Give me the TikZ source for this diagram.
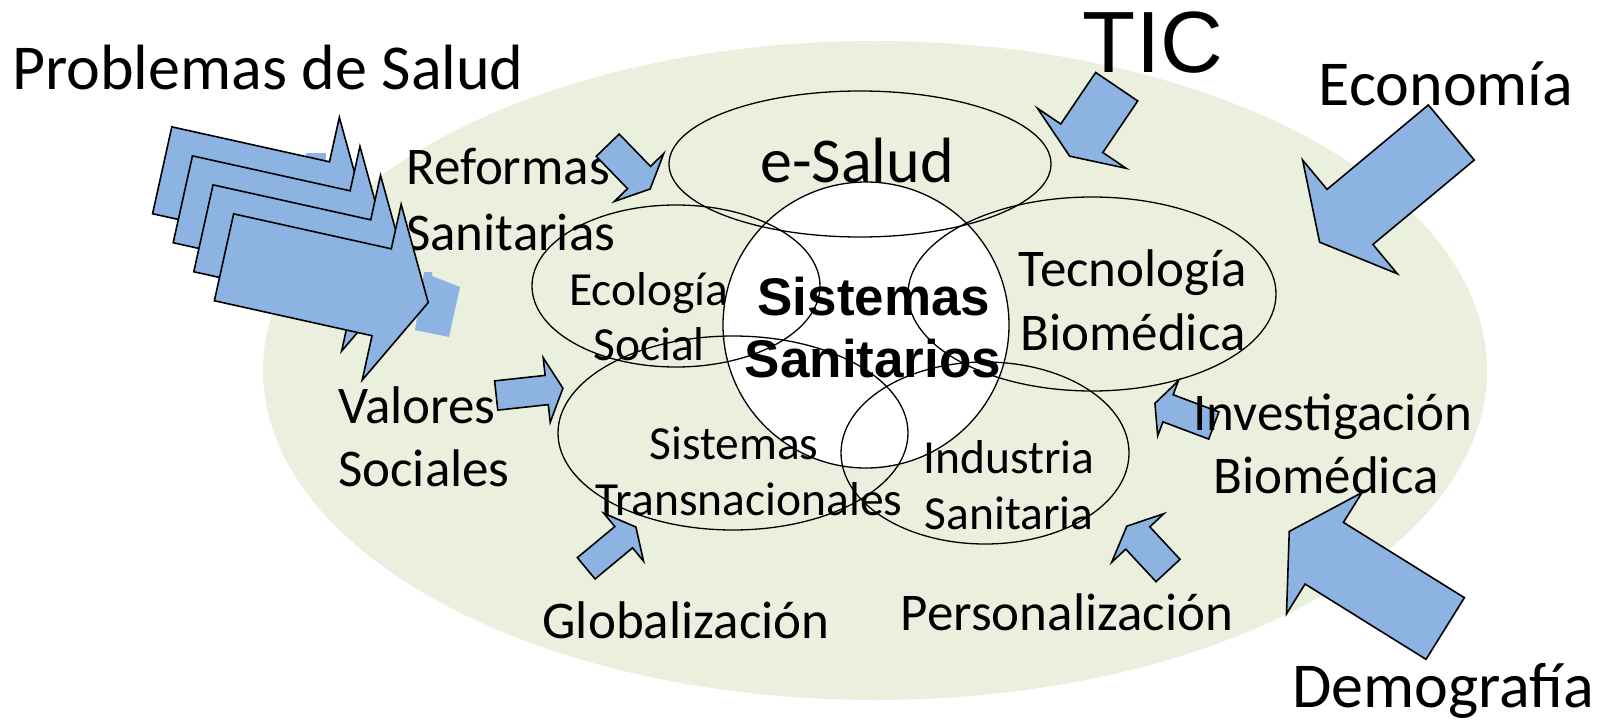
\documentclass[tikz,border=0pt]{standalone}
\usepackage{fontspec}
\newfontfamily\carl{Carlito}
\newfontfamily\libs{Liberation Sans}
\definecolor{bgolive}{HTML}{EBF0DE}
\definecolor{arrblue}{HTML}{8DB3E2}
\tikzset{
  barrow/.style={fill=arrblue,draw=black,line width=1.6pt,line join=miter},
  ring/.style={draw=black,line width=1.3pt},
  lbl/.style={inner sep=0pt,anchor=base,font=\carl\fontsize{53}{63}\selectfont},
  lblbig/.style={inner sep=0pt,anchor=base,font=\carl\fontsize{64}{76}\selectfont},
  lblsm/.style={inner sep=0pt,anchor=base,font=\carl\fontsize{47.5}{57}\selectfont},
  lblbold/.style={inner sep=0pt,anchor=base,font=\libs\bfseries\fontsize{53}{63}\selectfont},
}
% #1,#2 back centre, #3 angle, #4 shaft length, #5 shaft half width, #6 head half width, #7 head length
\newcommand\blockarr[7]{%
  \begin{scope}[shift={(#1,#2)},rotate=#3]
    \filldraw[barrow] (0,-#5) -- (#4,-#5) -- (#4,-#6) -- ({#4+#7},0) -- (#4,#6) -- (#4,#5) -- (0,#5) -- cycle;
  \end{scope}}
\begin{document}
\begin{tikzpicture}[x=1pt,y=-1pt]
\useasboundingbox (0,0) rectangle (1614,722);
% background
\fill[bgolive] (875,370.5) ellipse [x radius=612, y radius=329.5];
% stray blue pieces
\fill[arrblue] (306,153) rectangle (326,180);
\fill[arrblue] (424,272) -- (432,272) -- (432,276) -- (460,287) -- (449,337) -- (415,330) -- cycle;
% central white circle
\fill[white] (866,325) circle [radius=143];
% ellipse outlines
\draw[ring] (860,164) ellipse [x radius=191, y radius=73];
\draw[ring] (676,286) ellipse [x radius=144, y radius=81];
\draw[ring] (866,325) circle [radius=143];
\draw[ring] (1092,294) ellipse [x radius=184, y radius=97];
\draw[ring] (733,433) ellipse [x radius=175, y radius=97];
\draw[ring] (985,453) ellipse [x radius=144, y radius=91];
% labels
\node[lblbig,anchor=base west] (prob) at (12,90) {Problemas de Salud};
\node[inner sep=0pt,anchor=base,font=\libs\fontsize{87}{96}\selectfont] (tic) at (1153,73) {TIC};
\node[lblbig] (eco) at (1446,106) {Economía};
\node[lblbig] (dem) at (1443,707) {Demografía};
\node[lbl,anchor=base west] (ref1) at (406,185) {Reformas};
\node[lbl,anchor=base west] (ref2) at (406,250) {Sanitarias};
\node[lblbig] (esal) at (857,183) {e-Salud};
\node[lblsm] (ecol1) at (649,305) {Ecología};
\node[lblsm] (ecol2) at (649,360) {Social};
\node[lblbold] (ss1) at (874,315) {Sistemas};
\node[lblbold] (ss2) at (873,377) {Sanitarios};
\node[lbl] (tec1) at (1133,286) {Tecnología};
\node[lbl] (tec2) at (1133,350) {Biomédica};
\node[lbl,anchor=base west] (val1) at (338,423) {Valores};
\node[lbl,anchor=base west] (val2) at (338,486) {Sociales};
\node[lblsm] (st1) at (734,459) {Sistemas};
\node[lblsm] (st2) at (749,515) {Transnacionales};
\node[lblsm] (ind1) at (1009,473) {Industria};
\node[lblsm] (ind2) at (1009,529) {Sanitaria};
\node[lbl] (glob) at (686,638) {Globalización};
\node[lbl] (pers) at (1067,630) {Personalización};
% block arrows
\blockarr{162.2}{170.3}{-12.5}{161.5}{44.5}{90}{47.7}
\blockarr{182.8}{199.3}{-12.5}{161.5}{44.5}{90}{47.7}
\blockarr{203.4}{228.3}{-12.5}{161.5}{44.5}{90}{47.7}
\blockarr{224}{257.3}{-12.5}{161.5}{44.5}{90}{47.7}
\blockarr{607.7}{145.2}{-45.9}{45}{16}{34.4}{16}
\blockarr{1116.7}{86.7}{-124.1}{62.3}{25.4}{53.5}{21.6}
\blockarr{1451.3}{132.5}{-140.2}{131.9}{35.85}{74}{39.5}
\blockarr{1445.2}{628.5}{148.1}{142.5}{36.3}{71.4}{41.2}
\blockarr{496.2}{395.5}{6.2}{50.8}{14.7}{32.5}{16.3}
\blockarr{586.2}{568.3}{39.7}{48.7}{13.85}{31.1}{15.9}
\blockarr{1213.8}{425.5}{159.4}{48.9}{14.5}{29.4}{14}
\blockarr{1168}{570.5}{132.9}{44.4}{16.4}{35.7}{16.1}
% text above its arrow
\node[lbl] (inv1) at (1333,430) {Investigación};
\node[lbl] (inv2) at (1326,493) {Biomédica};
\end{tikzpicture}
\end{document}
